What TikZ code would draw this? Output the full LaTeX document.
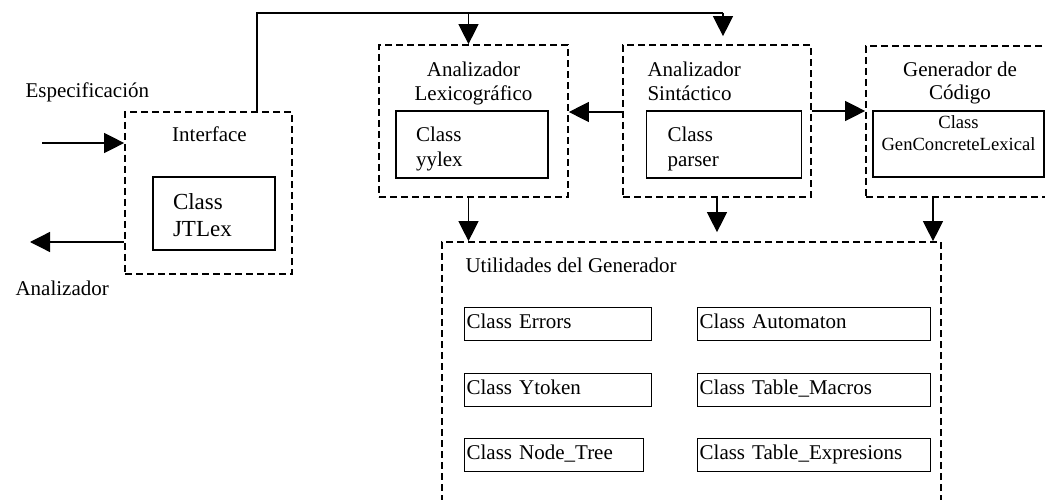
\documentclass[tikz,border=0pt]{standalone}
\usepackage{fontspec}
\setmainfont{Liberation Serif}
\usetikzlibrary{arrows.meta,positioning}

\begin{document}
\begin{tikzpicture}[x=1pt,y=-1pt,
		every node/.style={font=\fontsize{21}{24}\selectfont},
		module/.style={draw,dash pattern=on 7pt off 4pt,line width=1.7pt,rectangle,inner sep=0pt},
		clsbox/.style={draw,line width=1.3pt,rectangle,inner sep=0pt},
		utilcls/.style={clsbox,anchor=north west,minimum height=33,inner xsep=2pt,align=left,text height=13pt,text depth=5pt},
		flow/.style={line width=1.3pt,-{Triangle[length=20pt,width=20pt]}}]
	\useasboundingbox (0,0) rectangle (1045,500);
	% interface
	\node[module,minimum width=167,minimum height=162] (intf) at (208.5,193) {};
	\node[anchor=base] (intflbl) at (209.5,142) {Interface};
	\node[clsbox,minimum width=122,minimum height=73,text width=82pt,inner xsep=20pt,align=left,font=\fontsize{23}{27}\selectfont,text height=20pt,text depth=27pt] (jtlex) at (214,213.5) {Class\\JTLex};
	\node[anchor=base west] (espec) at (22,98) {Especificación};
	\node[anchor=base west] (anlz) at (12,295) {Analizador};
	\coordinate (inp) at (42,143);
	\coordinate (outp) at (30,242);
	\draw[flow] (inp) -- (inp -| intf.west);
	\draw[flow] (outp -| intf.west) -- (outp);
	% lexico
	\node[module,minimum width=189,minimum height=152] (lex) at (473.5,121) {};
	\node[anchor=base,align=center] (lexlbl) at (473.5,101) {Analizador\\Lexicográfico};
	\node[clsbox,minimum width=132,minimum height=67,text width=112pt,inner xsep=20pt,align=left,font=\fontsize{21}{25}\selectfont,text height=20pt,text depth=25pt] (yylex) at (472,144.5) {Class\\yylex};
	% sintactico
	\node[module,minimum width=188,minimum height=152] (sint) at (717,121) {};
	\node[anchor=base west,align=left] (sintlbl) at (644,101) {Analizador\\Sintáctico};
	\node[clsbox,minimum width=134,minimum height=67,text width=113pt,inner xsep=21pt,align=left,font=\fontsize{21}{25}\selectfont,text height=20pt,text depth=25pt] (parser) at (724,144.5) {Class\\parser};
	% generador
	\node[module,minimum width=194,minimum height=151] (gen) at (963,121.5) {};
	\node[anchor=base,align=center,font=\fontsize{21}{23}\selectfont] (genlbl) at (960,100) {Generador de\\Código};
	\node[clsbox,minimum width=171,minimum height=66,text width=171pt,align=center,font=\fontsize{18.6}{22}\selectfont,text height=18pt,text depth=48pt] (gcl) at (958.5,144) {Class\\GenConcreteLexical};
	% utilidades
	\node[module,minimum width=499,minimum height=278] (util) at (691.5,381) {};
	\node[anchor=base west] (utillbl) at (462,272) {Utilidades del Generador};
	\node[utilcls,text width=183pt] (errs) at (464,307) {Class Errors};
	\node[utilcls,text width=183pt] (ytok) at (464,373) {Class Ytoken};
	\node[utilcls,text width=175pt] (ntree) at (464,438) {Class Node\_Tree};
	\node[utilcls,text width=229pt] (autom) at (697,307) {Class Automaton};
	\node[utilcls,text width=229pt] (tmac) at (697,373) {Class Table\_Macros};
	\node[utilcls,text width=229pt] (texp) at (697,438) {Class Table\_Expresions};
	% connectors
	\coordinate (topl) at (257,13);
	\coordinate (topr) at (723,13);
	\coordinate (lexup) at ([xshift=-5pt]lex.north);
	\coordinate (lexdn) at ([xshift=-5pt]lex.south);
	\coordinate (gendn) at ([xshift=-30pt]gen.south);
	\draw[line width=1.3pt] (topl |- intf.north) -- (topl) -- (topr);
	\draw[flow] (lexup |- topl) -- (lexup);
	\draw[flow,shorten >=8pt] (topr) -- (topr |- sint.north);
	\draw[flow] ([yshift=9pt]sint.west) -- ([yshift=9pt]lex.east);
	\draw[flow] ([yshift=10pt]sint.east) -- ([yshift=10pt]sint.east -| gen.west);
	\draw[flow] (lexdn) -- (lexdn |- util.north);
	\draw[flow,shorten >=9pt] (sint.south) -- (sint.south |- util.north);
	\draw[flow] (gendn) -- (gendn |- util.north);
\end{tikzpicture}
\end{document}
